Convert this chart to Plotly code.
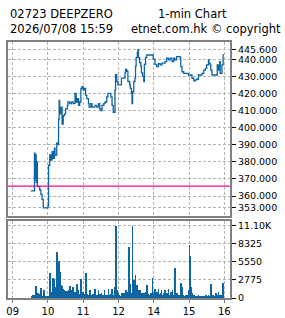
import plotly.graph_objects as go

# ---- data ----
# x = trading-minute index from 09:00 (lunch break removed: 180 = 12:00/13:00)
price_min = [31, 36, 37, 38, 39, 40, 41, 42, 43, 46, 48, 50, 52, 60, 61, 63, 65, 67, 69, 71, 72, 75, 76,
             78, 79, 80, 82, 84, 86, 88, 90, 93, 94, 97, 100, 103, 106, 108, 110, 112, 114, 116, 118,
             120, 122, 124, 126, 129, 130, 133, 135, 137, 140, 143, 146, 148, 150, 152, 155, 157, 160,
             162, 164, 167, 169, 171, 173, 174, 175, 177, 179, 181, 183, 185, 188, 191, 192, 194, 196,
             199, 200, 202, 203, 204, 206, 208, 209, 210, 212, 213, 214, 216, 218, 219, 221, 223, 224,
             226, 228, 230, 234, 237, 239, 242, 245, 248, 251, 254, 257, 259, 262, 265, 268, 271, 274,
             276, 279, 282, 285, 286, 288, 291, 296, 299, 305, 308, 311, 313, 316, 320, 322, 325, 328,
             330, 333, 334, 336, 337, 339, 342, 345, 348, 350, 352, 353, 355, 356, 358, 359]
price_val = [363.0, 363.0, 385.0, 370.0, 384.0, 368.0, 380.0, 366.0, 365.5, 363.5, 361.0, 358.0, 353.0,
             354.3, 378.0, 384.0, 381.0, 386.0, 382.0, 388.0, 384.0, 391.0, 390.0,
             405.0, 416.0, 408.0, 412.0, 402.0, 407.0, 408.0, 411.0, 413.0, 415.0, 414.0, 415.0, 414.0,
             420.0, 415.0, 417.0, 413.0, 415.0, 423.0, 424.0,
             422.0, 423.0, 419.0, 417.0, 414.0, 412.0, 414.0, 412.0, 412.0, 413.0, 412.0, 414.0, 411.0,
             410.0, 413.0, 414.0, 415.0, 418.0,
             420.0, 420.0, 418.0, 413.0, 409.0, 409.0, 422.0, 431.0, 427.0, 425.0, 425.0, 425.0, 429.0,
             429.0, 432.0, 434.0, 433.0, 427.0,
             425.0, 423.0, 420.0, 414.0, 421.0, 427.0, 429.0, 436.0, 441.0, 444.0, 445.6, 441.0, 438.0,
             436.0, 432.0, 430.0, 427.0, 437.0,
             441.0, 442.5, 442.5, 442.5, 442.5, 440.0, 437.0, 435.7, 437.5, 436.7, 437.7, 437.7, 438.6,
             440.6, 439.6, 440.6, 438.6, 440.6,
             439.6, 441.5, 441.5, 440.6, 435.7, 432.7, 431.8, 431.8, 430.8, 428.9, 427.3, 427.9, 428.3,
             430.8, 430.8, 431.8, 433.7,
             434.7, 436.7, 439.6, 437.7, 436.7, 433.7, 430.8, 430.8, 430.8, 436.7, 433.7, 438.6, 431.8,
             431.8, 436.7, 443.1]

vol_min = [32, 35, 37, 39, 40, 41, 43, 45, 47, 48, 49, 51, 53, 56, 58, 61, 62, 64, 65, 67, 69, 71, 73,
           74, 76, 78, 79, 81, 82, 84, 86, 87, 89, 91, 92, 95, 96, 98, 99, 100, 102, 103, 105, 106, 108,
           109, 111, 112, 113, 116, 117, 119, 121, 123, 125, 127, 129, 132, 134, 136, 138, 140, 142,
           145, 146, 149, 151, 154, 156, 158, 160, 163, 165, 167, 169, 171, 173, 175, 176, 178, 180,
           181, 184, 186, 188, 191, 193, 195, 198, 200, 202, 204, 206, 208, 209, 211, 213, 214, 217,
           219, 221, 223, 226, 228, 230, 233, 235, 236, 238, 240, 242, 244, 246, 248, 250, 252, 253,
           256, 257, 259, 261, 263, 265, 267, 269, 271, 272, 274, 276, 278, 280, 282, 284, 286, 288,
           289, 290, 293, 295, 297, 299, 301, 302, 304, 306, 308, 310, 313, 316, 319, 322, 324, 327,
           329, 331, 333, 335, 337, 339, 341, 344, 346, 348, 350, 352, 353, 355, 357, 358]
vol_val = [250, 400, 450, 700, 1800, 600, 700, 650, 500, 1540, 450, 350, 1180, 300, 200, 250, 350, 3900,
           900, 400, 3080, 2980, 1700, 1500, 7100, 1800, 5700, 4000, 1950, 1850, 1400, 1300, 1100, 700,
           1000, 1200, 800, 1850, 1000, 1200, 800, 1700, 700, 900, 600, 2200, 700, 1200, 600, 2900,
           700, 900, 600, 500, 3850, 670, 500, 1200, 500, 600, 400, 1340, 500, 400, 1200, 600, 700,
           400, 1200, 500, 400, 1440, 500, 600, 1340, 500, 1700, 4270, 11100, 1180, 800, 400, 300,
           770, 770, 800, 1180, 900, 7860, 2200, 800, 11100, 2720, 1950, 3500, 1950, 1200, 800, 1200,
           700, 800, 700, 900, 1950, 600, 400, 700, 500, 3080, 800, 1440, 700, 900, 1340, 600, 800,
           1200, 500, 700, 1200, 600, 700, 1340, 500, 900, 600, 1200, 500, 4630, 600, 700, 400, 400,
           2360, 500, 1700, 400, 300, 400, 500, 1200, 8120, 6400, 1700, 700, 400, 300, 200, 400, 200,
           250, 250, 300, 400, 250, 500, 300, 2100, 400, 500, 300, 700, 400, 900, 300, 400, 500, 700,
           2360]

prev_close = 365.8
x_tickvals = [0, 60, 120, 180, 240, 300, 360]
x_ticktext = ["09", "10", "11", "12", "14", "15", "16"]
p_tickvals = [353, 360, 370, 380, 390, 400, 410, 420, 430, 440, 445.6]
p_ticktext = ["353.000", "360.000", "370.000", "380.000", "390.000", "400.000", "410.000",
              "420.000", "430.000", "440.000", "445.600"]
v_tickvals = [0, 2775, 5550, 8325, 11100]
v_ticktext = ["0", "2775", "5550", "8325", "11.10K"]

# ---- figure ----
W, H = 285, 318
BLUE = "#0f64a3"
GRID = "#b4b4b4"
FRAME = "#808080"
FONT = "DejaVu Sans"

fig = go.Figure()
fig.add_trace(go.Scatter(x=price_min, y=price_val, mode="lines", line=dict(color=BLUE, width=1.3, shape="hv"),
                         xaxis="x", yaxis="y", showlegend=False, hoverinfo="skip"))
fig.add_trace(go.Scatter(x=[-8, 370], y=[prev_close, prev_close], mode="lines",
                         line=dict(color="#f7068a", width=1.3), xaxis="x", yaxis="y",
                         showlegend=False, hoverinfo="skip"))
fig.add_trace(go.Bar(x=vol_min, y=vol_val, width=1.3, marker=dict(color=BLUE, line=dict(width=0)),
                     xaxis="x2", yaxis="y2", showlegend=False, hoverinfo="skip"))

xr = [-8, 369.7]
common_x = dict(range=xr, tickvals=x_tickvals, showgrid=True, gridcolor=GRID, griddash="3px,2px",
                gridwidth=1, showline=True, linecolor=FRAME, linewidth=2, mirror=True, zeroline=False,
                fixedrange=True, automargin=False)
common_y = dict(side="right", ticks="outside", ticklen=4, tickcolor="black", showgrid=True,
                gridcolor=GRID, griddash="3px,2px", showline=True, linecolor=FRAME, linewidth=2,
                mirror=True, zeroline=False, automargin=False, tickfont=dict(size=9.5, family=FONT))
fig.update_layout(
    width=W, height=H, margin=dict(l=0, r=0, t=0, b=0, autoexpand=False),
    paper_bgcolor="white", plot_bgcolor="white",
    font=dict(family=FONT, size=10, color="black"),
    bargap=0,
    xaxis=dict(domain=[8 / W, 230 / W], anchor="y", showticklabels=False, ticks="", **common_x),
    xaxis2=dict(domain=[8 / W, 230 / W], anchor="y2", matches="x", ticktext=x_ticktext,
                ticks="outside", ticklen=3, tickcolor=FRAME, tickfont=dict(size=10, family=FONT),
                **common_x),
    yaxis=dict(domain=[1 - 216 / H, 1 - 42 / H], range=[348.3, 450.1],
               tickvals=p_tickvals, ticktext=p_ticktext, **common_y),
    yaxis2=dict(domain=[1 - 298 / H, 1 - 221 / H], range=[0, 11830],
                tickvals=v_tickvals, ticktext=v_ticktext, **common_y),
)

def note(text, px, py, anchor="left"):
    fig.add_annotation(text=text, x=px / W, y=1 - py / H, xref="paper", yref="paper",
                       xanchor=anchor, yanchor="middle", showarrow=False,
                       font=dict(family=FONT, size=11.5, color="black"))

note("02723 DEEPZERO", 8, 13.5)
note("1-min Chart", 156, 13.5)
note("2026/07/08 15:59", 8, 29)
note("etnet.com.hk © copyright", 283, 29, anchor="right")

fig.write_html("out.html")
